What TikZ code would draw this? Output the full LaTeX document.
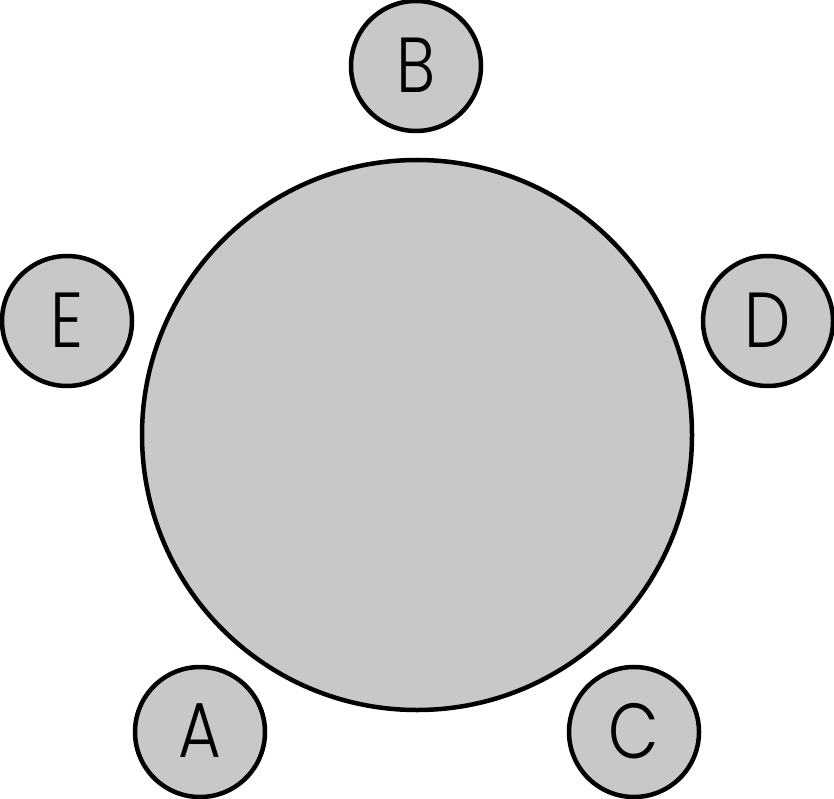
\documentclass[tikz,border=0pt]{standalone}
\usepackage{fontspec}
\setmainfont{Poppins}[UprightFont=* Light]
\definecolor{fillgray}{HTML}{C8C8C8}
\newcommand{\lett}[1]{\raisebox{2pt}{\scalebox{0.84}[1]{#1}}}
\begin{document}
\begin{tikzpicture}[x=1pt,y=-1pt,
  bigc/.style={circle,draw=black,fill=fillgray,line width=4.5pt,minimum size=550pt,inner sep=0pt},
  smallc/.style={circle,draw=black,fill=fillgray,line width=4.5pt,minimum size=130pt,inner sep=0pt,
    font=\fontsize{78}{78}\selectfont}]
\useasboundingbox (0,0) rectangle (834,799);
\node[bigc] (big) at (417,435) {};
\node[smallc] (b) at (416,66) {\lett{B}};
\node[smallc] (e) at (67,321) {\lett{E}};
\node[smallc] (d) at (768,321) {\lett{D}};
\node[smallc] (a) at (200,732) {\lett{A}};
\node[smallc] (c) at (634,732) {\lett{C}};
\end{tikzpicture}
\end{document}
